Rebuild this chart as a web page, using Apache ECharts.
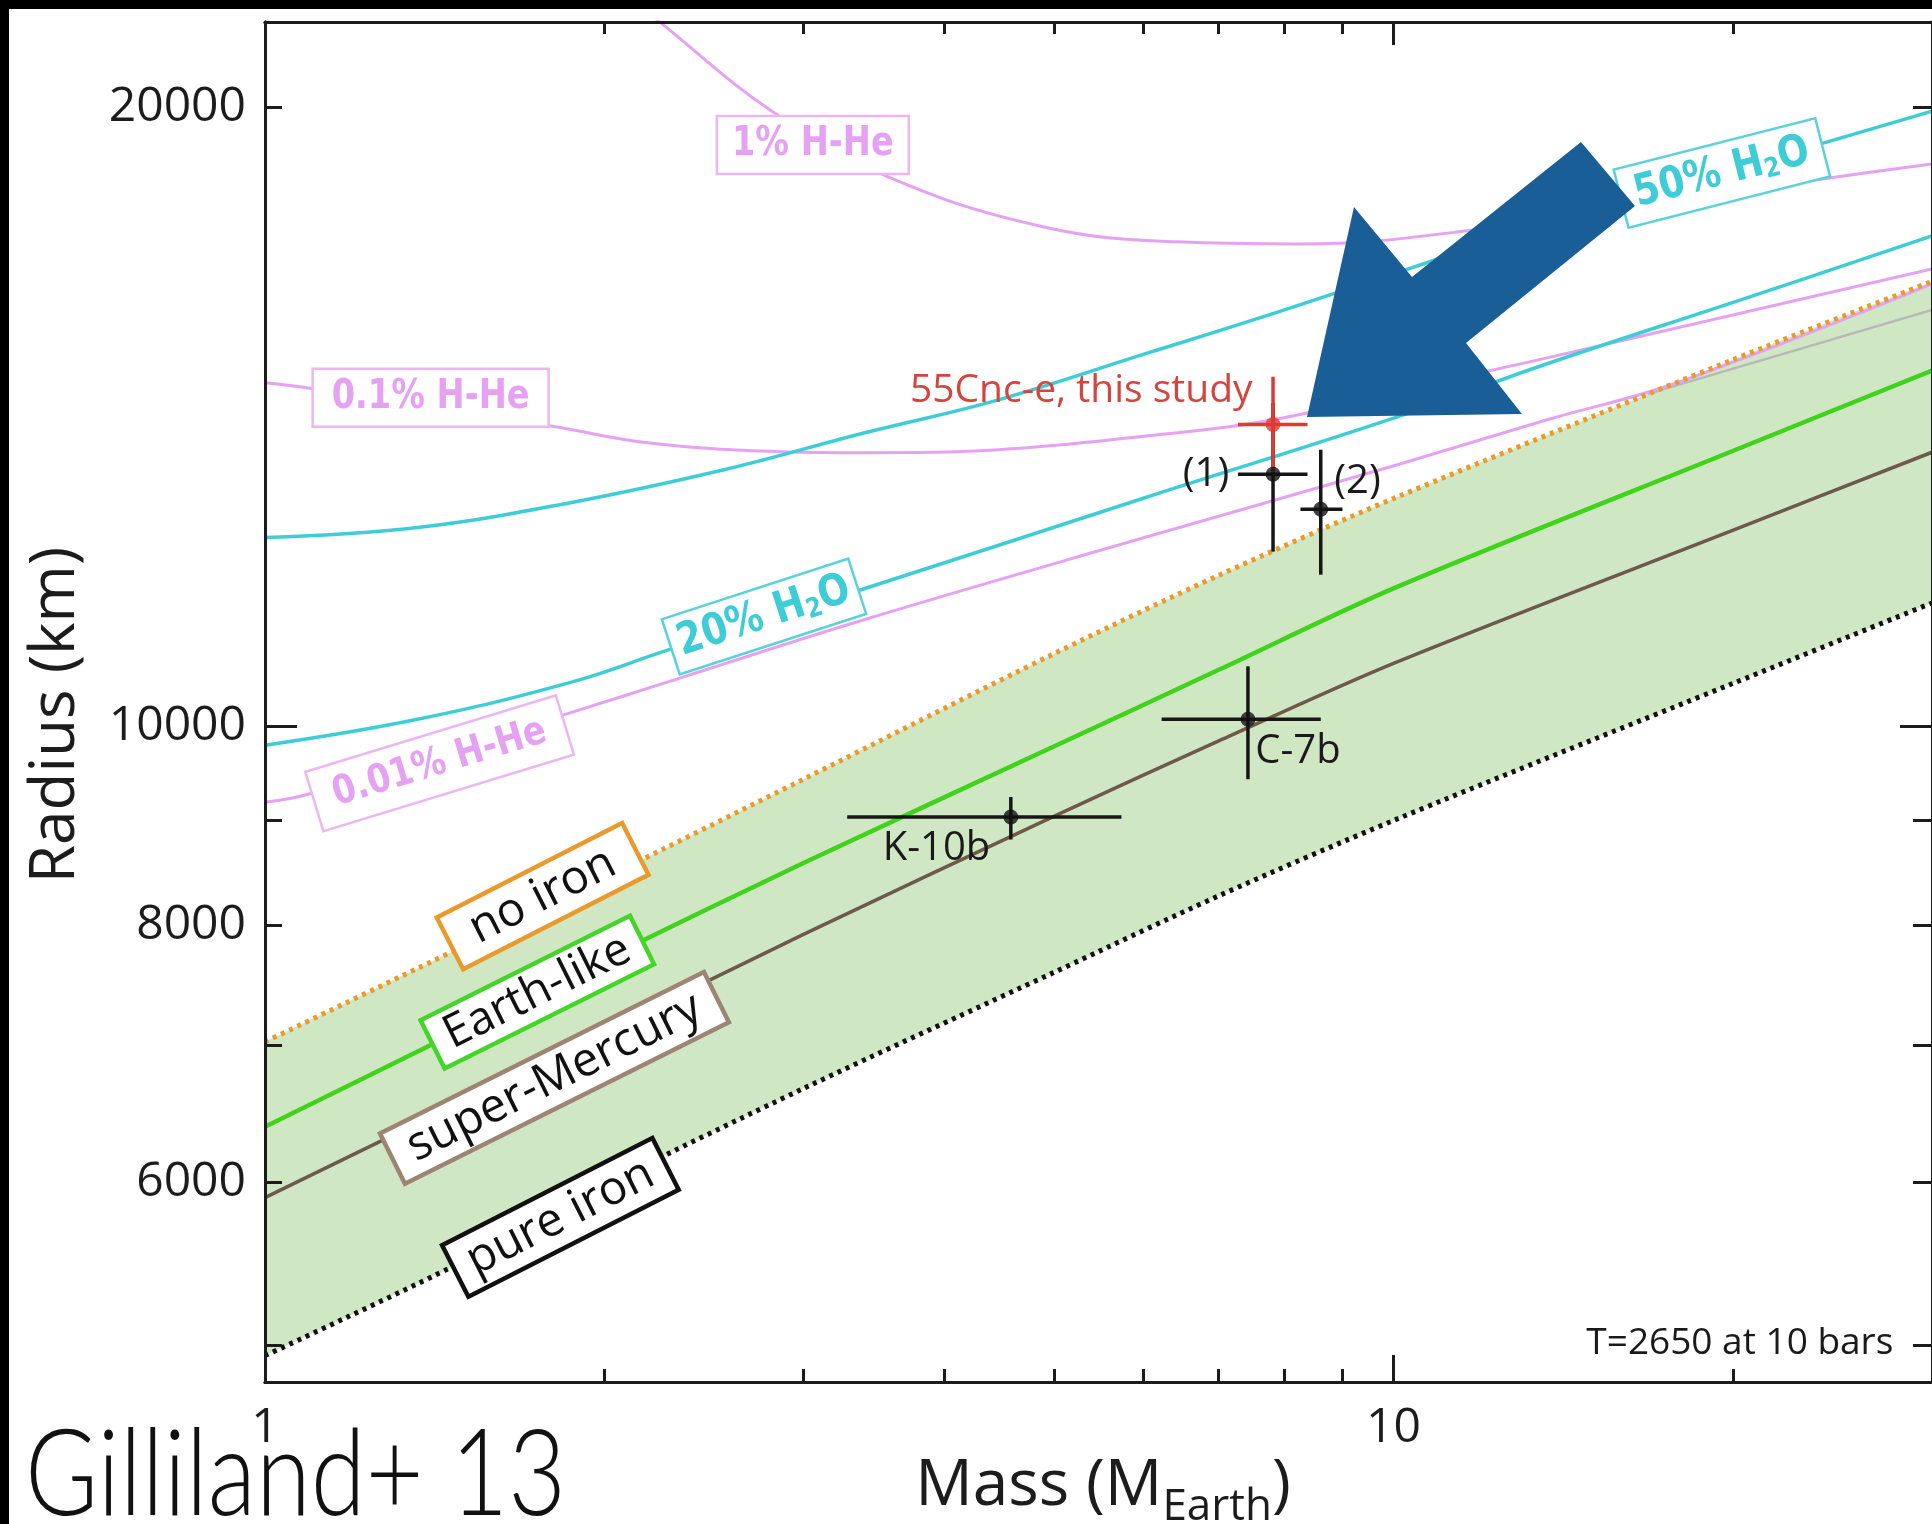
<!DOCTYPE html>
<html>
<head>
<meta charset="utf-8">
<script src="https://cdn.jsdelivr.net/npm/echarts@6/dist/echarts.min.js"></script>
<style>
html,body{margin:0;padding:0;background:#fff;}
#chart{width:1932px;height:1524px;}
</style>
</head>
<body>
<div id="chart"></div>
<script>
// ---- Mass–radius relations (mass in Earth masses, radius in km) ----
const massGrid = [1, 1.5, 2, 3, 5, 7, 10, 20, 30];
const pureIronR = [4944, 5495, 5982, 6667, 7592, 8272, 9000, 10494, 11481];
const superMercuryR = [5900, 6577, 7105, 7922, 9041, 9838, 10731, 12457, 13591];
const earthLikeR = [6387, 7128, 7707, 8581, 9776, 10653, 11670, 13614, 14893];
const noIronR = [7024, 7819, 8438, 9425, 10846, 11841, 12905, 15076, 16455];

const greyMass = [16.8, 30];
const greyR = [14509, 15937];

const water50Mass = [1, 1.365, 1.865, 2.551, 3.4, 4.466, 6.059, 7.428, 15.94, 24.19, 30];
const water50R = [12353, 12492, 12845, 13327, 13890, 14412, 15189, 15730, 18030, 19233, 19910];
const water20Mass = [1, 1.365, 1.865, 2.285, 3.379, 6.059, 10.08, 13.68, 20.56, 30];
const water20R = [9790, 10079, 10504, 10899, 11655, 12931, 14141, 15006, 16155, 17316];

const hhe1Mass = [2.02, 2.24, 2.82, 3.57, 4.9, 6.44, 8.23, 11.37, 24.34, 30];
const hhe1R = [23050, 21990, 19890, 18495, 17490, 17200, 17160, 17390, 18475, 18767];
const hhe01Mass = [1, 1.089, 1.808, 2.182, 2.865, 3.4, 4.466, 6.059, 7.817, 11.94, 13.68, 30];
const hhe01R = [14690, 14609, 13983, 13737, 13600, 13585, 13630, 13844, 14094, 14855, 15106, 16687];
const hhe001Mass = [1, 1.092, 1.857, 2.357, 3.4, 6.059, 10.08, 13.68, 17.83, 30];
const hhe001R = [9186, 9268, 10146, 10575, 11271, 12367, 13403, 14094, 14690, 16410];

// ---- Measured planets ----
const planetNames = ['K-10b', 'C-7b', '(2)', '(1)', '55Cnc-e'];
const planetMass = [4.58, 7.43, 8.62, 7.82, 7.82];
const planetMassLo = [3.28, 6.23, 8.27, 7.28, 7.28];
const planetMassHi = [5.74, 8.62, 9.01, 8.39, 8.39];
const planetR = [9035, 10080, 12750, 13260, 14020];
const planetRLo = [8810, 9425, 11850, 12160, 13290];
const planetRHi = [9240, 10695, 13630, 14360, 14790];

// ---- Axis ticks ----
const massRange = [1, 30];
const radiusRange = [4800, 22000];
const massTicksMajor = [1, 10];
const massTicksMinor = [2, 3, 4, 5, 6, 7, 8, 9, 20, 30];
const radiusLabels = [6000, 8000, 10000, 20000];
const radiusTicksMajor = [10000];
const radiusTicksMinor = [5000, 6000, 7000, 8000, 9000, 20000];

const L = Math.log10;
const pairs = (ms, rs) => ms.map((m, i) => [L(m), L(rs[i])]);

const AXC = '#1c1c1c';
const PINK = '#e6a2f2', CYAN = '#3ecdd6', RED = '#de3a32';
const ROCK_SMOOTH = 0.3, ENV_SMOOTH = 0.4;

function massAxis(position, ticks, len, labels) {
  return {
    type: 'value', position, z: 20, min: L(massRange[0]), max: L(massRange[1]),
    axisLine: {show: true, onZero: false, lineStyle: {color: AXC, width: 3}},
    axisTick: {show: true, inside: true, length: len, customValues: ticks.map(L), lineStyle: {color: AXC, width: 3}},
    axisLabel: labels ? {
      show: true, customValues: labels.map(L), margin: 22,
      formatter: v => String(Math.round(Math.pow(10, v))),
      color: AXC, fontFamily: 'Open Sans', fontSize: 48
    } : {show: false},
    splitLine: {show: false}
  };
}
function radiusAxis(position, ticks, len, labels) {
  return {
    type: 'value', position, z: 20, min: L(radiusRange[0]), max: L(radiusRange[1]),
    axisLine: {show: true, onZero: false, lineStyle: {color: AXC, width: 3}},
    axisTick: {show: true, inside: true, length: len, customValues: ticks.map(L), lineStyle: {color: AXC, width: 3}},
    axisLabel: labels ? {
      show: true, customValues: labels.map(L), margin: 19,
      formatter: v => String(Math.round(Math.pow(10, v))),
      color: AXC, fontFamily: 'Open Sans', fontSize: 48
    } : {show: false},
    splitLine: {show: false}
  };
}

function curve(name, ms, rs, color, width, dash, smooth, z) {
  return {
    type: 'line', name, data: pairs(ms, rs), showSymbol: false, symbol: 'none',
    smooth: smooth, clip: true, silent: true, z,
    lineStyle: {color, width, type: dash || 'solid', cap: 'butt'}
  };
}
// filled region under a relation, down to the bottom of the plot
function underFill(name, ms, rs, color, z) {
  return {
    type: 'line', name, data: pairs(ms, rs), showSymbol: false, symbol: 'none',
    smooth: ROCK_SMOOTH, clip: true, silent: true, z,
    lineStyle: {color, width: 1, opacity: 0},
    areaStyle: {color, opacity: 1, origin: 'start'}
  };
}

const chart = echarts.init(document.getElementById('chart'), null, {renderer: 'canvas', width: 1932, height: 1524});

chart.setOption({
  animation: false,
  backgroundColor: '#ffffff',
  grid: {left: 265, top: 22, width: 1670, height: 1360, containLabel: false},
  xAxis: [
    massAxis('bottom', massTicksMajor, 27, massTicksMajor),
    massAxis('bottom', massTicksMinor, 13, null),
    massAxis('top', massTicksMajor, 23, null),
    massAxis('top', massTicksMinor, 12, null)
  ],
  yAxis: [
    radiusAxis('left', radiusTicksMajor, 32, radiusLabels),
    radiusAxis('left', radiusTicksMinor, 17, null),
    radiusAxis('right', radiusTicksMajor, 32, null),
    radiusAxis('right', radiusTicksMinor, 19, null)
  ],
  series: [
    // rocky-planet band: green below the no-iron relation, white again below pure iron
    underFill('band top', massGrid, noIronR, '#cfe8c3', 1),
    underFill('band bottom', massGrid, pureIronR, '#ffffff', 1.5),
    curve('grey', greyMass, greyR, '#b8b8b8', 2.5, null, false, 2),
    curve('1% H-He', hhe1Mass, hhe1R, PINK, 3, null, ENV_SMOOTH, 3),
    curve('0.1% H-He', hhe01Mass, hhe01R, PINK, 3, null, ENV_SMOOTH, 3),
    curve('0.01% H-He', hhe001Mass, hhe001R, PINK, 3, null, ENV_SMOOTH, 3),
    curve('50% H2O', water50Mass, water50R, CYAN, 3.5, null, ENV_SMOOTH, 4),
    curve('20% H2O', water20Mass, water20R, CYAN, 3.5, null, ENV_SMOOTH, 4),
    curve('pure iron', massGrid, pureIronR, '#111111', 5, [4, 5], ROCK_SMOOTH, 5),
    curve('super-Mercury', massGrid, superMercuryR, '#6f5a48', 3.5, null, ROCK_SMOOTH, 5),
    curve('Earth-like', massGrid, earthLikeR, '#40d21c', 4.5, null, ROCK_SMOOTH, 5),
    curve('no iron', massGrid, noIronR, '#e89a2c', 5, [4, 5], ROCK_SMOOTH, 5),
    // error bars
    {
      type: 'custom', coordinateSystem: 'cartesian2d', z: 8, silent: true,
      data: planetNames.map((n, i) => [L(planetMass[i]), L(planetR[i]), L(planetMassLo[i]), L(planetMassHi[i]), L(planetRLo[i]), L(planetRHi[i])]),
      renderItem: (params, api) => {
        const x = api.value(0), y = api.value(1);
        const c = api.coord([x, y]);
        const xl = api.coord([api.value(2), y]), xh = api.coord([api.value(3), y]);
        const yl = api.coord([x, api.value(4)]), yh = api.coord([x, api.value(5)]);
        const col = planetNames[params.dataIndex] === '55Cnc-e' ? RED : '#161616';
        return {type: 'group', children: [
          {type: 'line', shape: {x1: xl[0], y1: c[1], x2: xh[0], y2: c[1]}, style: {stroke: col, lineWidth: 3.5}},
          {type: 'line', shape: {x1: c[0], y1: yl[1], x2: c[0], y2: yh[1]}, style: {stroke: col, lineWidth: 3.5}}
        ]};
      }
    },
    {
      type: 'scatter', z: 9, silent: true, symbol: 'circle', symbolSize: 15,
      data: planetNames.map((n, i) => ({
        value: [L(planetMass[i]), L(planetR[i])],
        itemStyle: {color: n === '55Cnc-e' ? RED : '#111111'}
      }))
    }
  ]
});

// ---- Curve tags, point names and notes, anchored in data space ----
const tagFontHHe = {ff: 'DejaVu Sans', fw: 'bold', fs: 40, sx: 0.84};
const curveTags = [
  {text: '1% H-He', at: [3.058, 19168], angle: 0, w: 192, h: 58, color: PINK, border: '#ebb6f3', bw: 2.5, ...tagFontHHe},
  {text: '0.1% H-He', at: [1.402, 14444], angle: 0, w: 236, h: 58, color: PINK, border: '#ebb6f3', bw: 2.5, ...tagFontHHe},
  {text: '0.01% H-He', at: [1.428, 9595], angle: 17, w: 262, h: 62, color: PINK, border: '#ebb6f3', bw: 2.5, ...tagFontHHe},
  {text: '{n|20% H}{s|2}{n|O}', sub: true, at: [2.768, 11308], angle: 18, w: 196, h: 58, color: CYAN, border: '#5ad2da', bw: 2.5, ...tagFontHHe, fs: 44},
  {text: '{n|50% H}{s|2}{n|O}', sub: true, at: [19.54, 18577], angle: 14.3, w: 208, h: 60, color: CYAN, border: '#5ad2da', bw: 2.5, ...tagFontHHe, fs: 44},
  {text: 'no iron', at: [1.762, 8269], angle: 27, w: 208, h: 58, color: '#111', border: '#e99a2c', bw: 4.5, ff: 'Open Sans', fw: 'normal', fs: 47, sx: 1},
  {text: 'Earth-like', at: [1.743, 7426], angle: 26.5, w: 234, h: 54, color: '#111', border: '#45d42a', bw: 4.5, ff: 'Open Sans', fw: 'normal', fs: 46, sx: 1},
  {text: 'super-Mercury', at: [1.805, 6747], angle: 26.5, w: 362, h: 56, color: '#111', border: '#9d8574', bw: 4.5, ff: 'Open Sans', fw: 'normal', fs: 47, sx: 1},
  {text: 'pure iron', at: [1.827, 5771], angle: 27, w: 236, h: 58, color: '#111', border: '#111', bw: 4.5, ff: 'Open Sans', fw: 'normal', fs: 47, sx: 1}
];
const notes = [
  {text: '55Cnc-e, this study', at: [5.2875, 14559], color: '#d6443e', fs: 39},
  {text: '(1)', at: [6.82, 13253], color: '#1a1a1a', fs: 40},
  {text: '(2)', at: [9.29, 13150], color: '#1a1a1a', fs: 40},
  {text: 'K-10b', at: [3.936, 8718], color: '#1a1a1a', fs: 40},
  {text: 'C-7b', at: [8.227, 9724], color: '#1a1a1a', fs: 40},
  {text: 'T=2650 at 10 bars', at: [20.27, 5011], color: '#1a1a1a', fs: 37}
];

function toPx(m, r) {
  return chart.convertToPixel({xAxisIndex: 0, yAxisIndex: 0}, [L(m), L(r)]);
}

const graphics = [];
curveTags.forEach(t => {
  const p = toPx(t.at[0], t.at[1]);
  const textStyle = {
    text: t.text, x: 0, y: 0, align: 'center', verticalAlign: 'middle',
    fill: t.color, fontSize: t.fs, fontFamily: t.ff, fontWeight: t.fw
  };
  if (t.sub) {
    textStyle.rich = {
      n: {fill: t.color, fontSize: t.fs, fontFamily: t.ff, fontWeight: t.fw},
      s: {fill: t.color, fontSize: Math.round(t.fs * 0.62), fontFamily: t.ff, fontWeight: t.fw, padding: [18, 0, 0, 0]}
    };
  }
  graphics.push({
    type: 'group', x: p[0], y: p[1], rotation: t.angle * Math.PI / 180, z: 40,
    children: [
      {type: 'rect', shape: {x: -t.w / 2, y: -t.h / 2, width: t.w, height: t.h}, style: {fill: '#ffffff', stroke: t.border, lineWidth: t.bw}, z: 40},
      {type: 'text', scaleX: t.sx, style: textStyle, z: 41}
    ]
  });
});
notes.forEach(n => {
  const p = toPx(n.at[0], n.at[1]);
  graphics.push({
    type: 'text', x: p[0], y: p[1], z: 42,
    style: {text: n.text, align: 'center', verticalAlign: 'middle', fill: n.color, fontSize: n.fs, fontFamily: 'Open Sans'}
  });
});

// axis titles
graphics.push({
  type: 'text', x: 56, y: 715, rotation: Math.PI / 2, z: 42,
  style: {text: 'Radius (km)', align: 'center', verticalAlign: 'middle', fill: AXC, fontSize: 62, fontFamily: 'Open Sans'}
});
graphics.push({
  type: 'text', x: 1103, y: 1487, z: 42,
  style: {
    text: '{m|Mass (M}{s|Earth}{m|)}', align: 'center', verticalAlign: 'middle',
    rich: {
      m: {fill: AXC, fontSize: 64, fontFamily: 'Open Sans'},
      s: {fill: AXC, fontSize: 44, fontFamily: 'Open Sans', padding: [40, 0, 0, 0]}
    }
  }
});

// pointer arrow
graphics.push({
  type: 'polygon', z: 60,
  shape: {points: [[1581, 142], [1635, 206], [1466, 343], [1522, 414], [1307, 417], [1354, 207], [1412, 277]]},
  style: {fill: '#1a5e98'}
});

// slide frame edges and citation
graphics.push({type: 'rect', z: 70, shape: {x: 0, y: 0, width: 1932, height: 9}, style: {fill: '#000'}});
graphics.push({type: 'rect', z: 70, shape: {x: 0, y: 0, width: 9, height: 1524}, style: {fill: '#000'}});
graphics.push({
  type: 'text', x: 25, y: 1476, scaleX: 0.83, z: 71,
  style: {text: 'Gilliland+ 13', align: 'left', verticalAlign: 'middle', fill: '#111', fontSize: 120, fontFamily: 'Lato', fontWeight: 300}
});

chart.setOption({graphic: graphics});
</script>
</body>
</html>
